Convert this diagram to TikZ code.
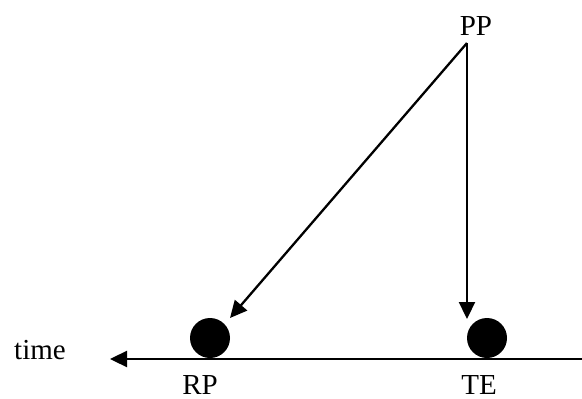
\documentclass[tikz,border=0pt]{standalone}
\usepackage{fontspec}
\setmainfont{Liberation Serif}
\usetikzlibrary{arrows.meta}
\begin{document}
\begin{tikzpicture}[x=1pt,y=-1pt,
  lbl/.style={inner sep=0pt,anchor=base,font=\fontsize{29}{34}\selectfont},
  dot/.style={circle,fill=black,inner sep=0pt,minimum size=40pt},
  conn/.style={line width=2.3pt,-{Triangle[length=17pt,width=16pt]}}]
\useasboundingbox (0,0) rectangle (582,399);
\node[lbl] (pp) at (476,35) {PP};
\node[lbl] (time) at (40,359) {time};
\node[lbl] (rplbl) at (200,394) {RP};
\node[lbl] (telbl) at (479,394) {TE};
\node[dot] (rp) at (210,338) {};
\node[dot] (te) at (487,338) {};
\coordinate (ppfoot) at (467,43);
\coordinate (rptip) at (230,318);
\coordinate (tetip) at (467,319);
\coordinate (lineright) at (582,359);
\coordinate (lineleft) at (110,359);
\draw[conn] (ppfoot) -- (rptip);
\draw[conn] (ppfoot) -- (tetip);
\draw[conn] (lineright) -- (lineleft);
\end{tikzpicture}
\end{document}
